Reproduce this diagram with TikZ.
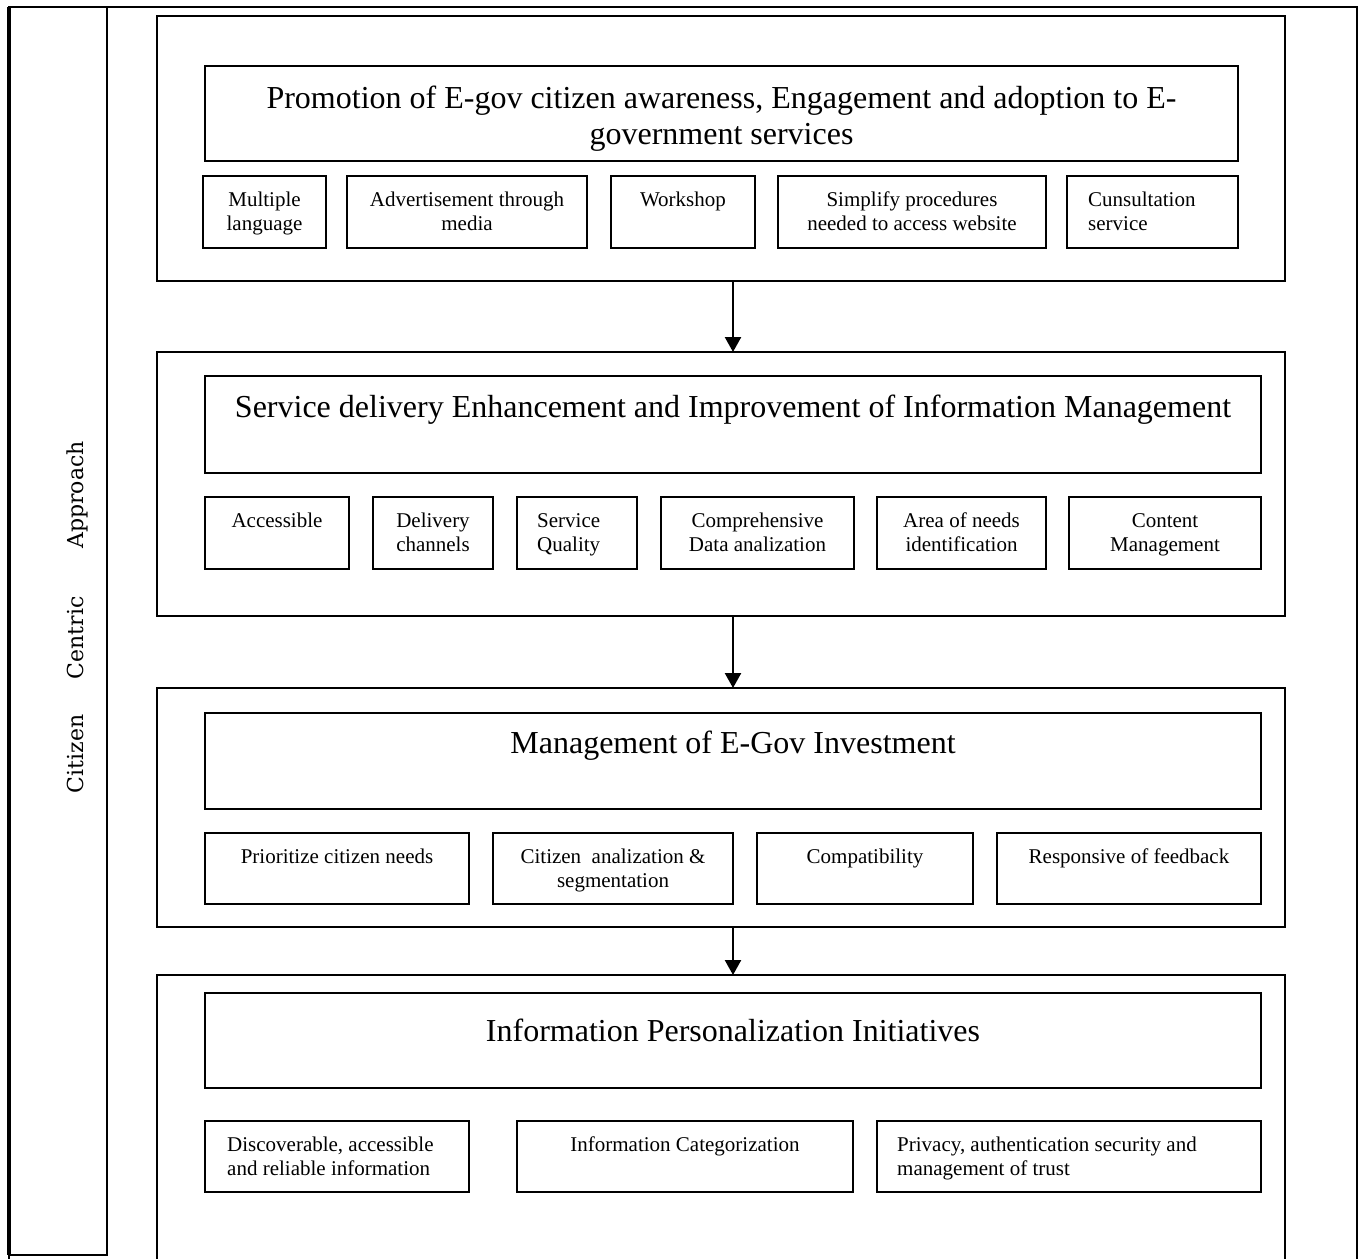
\documentclass[tikz,border=0pt]{standalone}
\usepackage{fontspec}
\setmainfont{Liberation Serif}
\newfontfamily\sidefont{DejaVu Serif}
\usetikzlibrary{arrows.meta}
\newcommand\rbox[5]{\node[frame, minimum width={#4pt-#2pt}, minimum height={#5pt-#3pt}, anchor=north west] (#1) at (#2,#3) {};}
\newcommand\sbx[6]{\rbox{#1}{#2}{#3}{#4}{#5}\node[subtxt] (#1t) at ([yshift=-13.2pt]#1.north) {\strut #6};}
\newcommand\sbxl[7]{\rbox{#1}{#2}{#3}{#4}{#5}\node[subtxtl] (#1t) at ([xshift=#7pt,yshift=-13.2pt]#1.north west) {\strut #6};}
\newcommand\tbx[7]{\rbox{#1}{#2}{#3}{#4}{#5}\node[ttl] (#1t) at ([yshift=-#7pt]#1.north) {\strut #6};}
\begin{document}
\begin{tikzpicture}[x=1pt,y=-1pt,
  frame/.style={draw, line width=2.4pt, inner sep=0pt, outer sep=0pt},
  ttl/.style={anchor=north, inner sep=0pt, align=center, font=\fontsize{32}{36}\selectfont},
  subtxt/.style={anchor=north, inner sep=0pt, align=center, font=\fontsize{21}{24}\selectfont},
  subtxtl/.style={subtxt, anchor=north west, align=left},
  arr/.style={line width=2.4pt, -{Triangle[width=16pt,length=15pt]}},
  sidetxt/.style={rotate=90, anchor=base, inner sep=0pt, font=\sidefont\fontsize{22}{26}\selectfont}
]
\useasboundingbox (0,0) rectangle (1361,1259);
% outer frame and side bar
\rbox{outer}{9}{7}{1357}{1300}
\rbox{side}{9}{7}{107}{1255}
\draw[line width=3.6pt] (side.north west) -- (side.south west);
\draw[white, line width=3.4pt] (107,424) -- (107,823);
\draw[line width=1.2pt] (107,421) -- (107,826);
\node[sidetxt] (w1) at (83,754) {Citizen};
\node[sidetxt] (w2) at (83,638) {Centric};
\node[sidetxt] (w3) at (83,495) {Approach};
% block 1
\rbox{b1}{157}{16}{1285}{281}
\tbx{h1}{205}{66}{1238}{161}{Promotion of E-gov citizen awareness, Engagement and adoption to E-\\government services}{17}
\sbx{s11}{203}{176}{326}{248}{Multiple\\language}
\sbx{s12}{347}{176}{587}{248}{Advertisement through\\media}
\sbx{s13}{611}{176}{755}{248}{Workshop}
\sbx{s14}{778}{176}{1046}{248}{Simplify procedures\\needed to access website}
\sbxl{s15}{1067}{176}{1238}{248}{Cunsultation\\service}{21}
% block 2
\rbox{b2}{157}{352}{1285}{616}
\tbx{h2}{205}{376}{1261}{473}{Service delivery Enhancement and Improvement of Information Management}{16.5}
\sbx{s21}{205}{497}{349}{569}{Accessible}
\sbx{s22}{373}{497}{493}{569}{Delivery\\channels}
\sbxl{s23}{517}{497}{637}{569}{Service\\Quality}{20}
\sbx{s24}{661}{497}{854}{569}{Comprehensive\\Data analization}
\sbx{s25}{877}{497}{1046}{569}{Area of needs\\identification}
\sbx{s26}{1069}{497}{1261}{569}{Content\\Management}
% block 3
\rbox{b3}{157}{688}{1285}{927}
\tbx{h3}{205}{713}{1261}{809}{Management of E-Gov Investment}{14.8}
\sbx{s31}{205}{833}{469}{904}{Prioritize citizen needs}
\sbx{s32}{493}{833}{733}{904}{Citizen\ \ analization \&\\segmentation}
\sbx{s33}{757}{833}{973}{904}{Compatibility}
\sbx{s34}{997}{833}{1261}{904}{Responsive of feedback}
% block 4
\rbox{b4}{157}{975}{1285}{1300}
\tbx{h4}{205}{993}{1261}{1088}{Information Personalization Initiatives}{22.8}
\sbxl{s41}{205}{1121}{469}{1192}{Discoverable, accessible\\and reliable information}{22}
\sbx{s42}{517}{1121}{853}{1192}{Information Categorization}
\sbxl{s43}{877}{1121}{1261}{1192}{Privacy, authentication security and\\management of trust}{20}
% arrows
\coordinate (ax) at (733,0);
\draw[arr] (b1.south -| ax) -- (b2.north -| ax);
\draw[arr] (b2.south -| ax) -- (b3.north -| ax);
\draw[arr] (b3.south -| ax) -- (b4.north -| ax);
\end{tikzpicture}
\end{document}
